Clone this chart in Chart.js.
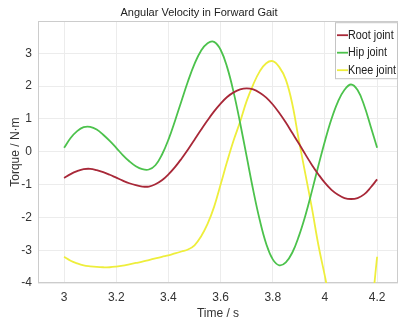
<!DOCTYPE html>
<html>
<head>
<meta charset="utf-8">
<script src="https://cdn.jsdelivr.net/npm/chart.js@4"></script>
<style>
  html, body { margin: 0; padding: 0; background: #fff; }
  #wrap { width: 403px; height: 321px; }
</style>
</head>
<body>
<div id="wrap"><canvas id="chart" width="403" height="321"></canvas></div>
<script>
const times = [3.000, 3.025, 3.050, 3.075, 3.100, 3.125, 3.150, 3.175, 3.200, 3.225,
               3.250, 3.275, 3.300, 3.325, 3.350, 3.375, 3.400, 3.425, 3.450, 3.475,
               3.500, 3.525, 3.550, 3.575, 3.600, 3.625, 3.650, 3.675, 3.700, 3.725,
               3.750, 3.775, 3.800, 3.825, 3.850, 3.875, 3.900, 3.925, 3.950, 3.975,
               4.000, 4.025, 4.050, 4.075, 4.100, 4.125, 4.150, 4.175, 4.200];

const rootJoint = [-0.80, -0.68, -0.59, -0.53, -0.52, -0.56, -0.62, -0.70, -0.79, -0.88,
                   -0.96, -1.02, -1.06, -1.06, -0.99, -0.87, -0.69, -0.47, -0.21, 0.07,
                   0.37, 0.67, 0.96, 1.23, 1.47, 1.67, 1.81, 1.90, 1.93, 1.90,
                   1.80, 1.65, 1.44, 1.18, 0.89, 0.57, 0.25, -0.08, -0.40, -0.69,
                   -0.95, -1.16, -1.31, -1.41, -1.44, -1.41, -1.30, -1.09, -0.84];

const hipJoint = [0.12, 0.42, 0.63, 0.75, 0.76, 0.68, 0.52, 0.33, 0.12, -0.10,
                  -0.29, -0.44, -0.53, -0.54, -0.41, -0.09, 0.37, 0.94, 1.55, 2.15,
                  2.68, 3.08, 3.31, 3.35, 3.11, 2.58, 1.81, 0.87, -0.15, -1.17,
                  -2.08, -2.81, -3.28, -3.46, -3.37, -3.07, -2.57, -1.94, -1.20, -0.42,
                  0.33, 1.00, 1.53, 1.89, 2.05, 1.88, 1.42, 0.78, 0.12];

const kneeJoint = [-3.20, -3.32, -3.40, -3.46, -3.49, -3.51, -3.52, -3.52, -3.50, -3.47,
                   -3.43, -3.39, -3.35, -3.30, -3.25, -3.20, -3.16, -3.10, -3.04, -2.98,
                   -2.85, -2.58, -2.20, -1.68, -1.00, -0.30, 0.35, 0.92, 1.55, 2.05,
                   2.45, 2.70, 2.76, 2.58, 2.20, 1.45, 0.35, -0.68, -1.72, -2.85,
                   -3.80, -4.80, -5.60, -6.20, -6.50, -6.40, -6.00, -5.00, -3.20];

const seriesNames = ['Root joint', 'Hip joint', 'Knee joint'];
const seriesColors = ['#a82838', '#4cc24c', '#eeee3c'];
const xTicks = [3, 3.2, 3.4, 3.6, 3.8, 4, 4.2];
const yTicks = [-4, -3, -2, -1, 0, 1, 2, 3];

const fontFamily = '"Liberation Sans", Arial, sans-serif';

function toPoints(vals) {
    return vals.map((v, i) => ({ x: times[i], y: v }));
}

const allSeries = [rootJoint, hipJoint, kneeJoint];

// box round the axes and the legend in the top right corner
const boxAndLegend = {
    id: 'boxAndLegend',
    beforeDatasetsDraw(chart) {
        const a = chart.chartArea;
        const ctx = chart.ctx;
        ctx.save();
        ctx.strokeStyle = '#cccccc';
        ctx.lineWidth = 1;
        ctx.strokeRect(Math.round(a.left) + 0.5, Math.round(a.top) + 0.5,
            Math.round(a.right - a.left) - 1, Math.round(a.bottom - a.top) - 1);
        ctx.restore();
    },
    afterDatasetsDraw(chart) {
        const a = chart.chartArea;
        const ctx = chart.ctx;
        const x0 = a.right - 63, y0 = a.top + 1, w = 63, h = 57;
        ctx.save();
        ctx.fillStyle = '#ffffff';
        ctx.fillRect(x0, y0, w, h);
        ctx.strokeStyle = '#c4c4c4';
        ctx.lineWidth = 1;
        ctx.strokeRect(x0 + 0.5, y0 + 0.5, w - 1, h - 1);
        seriesNames.forEach((name, i) => {
            const y = y0 + 13 + i * 17.5;
            ctx.strokeStyle = seriesColors[i];
            ctx.lineWidth = 1.8;
            ctx.beginPath();
            ctx.moveTo(x0 + 2, y);
            ctx.lineTo(x0 + 13, y);
            ctx.stroke();
            // text is a bit narrow in the original
            ctx.save();
            ctx.translate(x0 + 13, y);
            ctx.scale(0.9, 1);
            ctx.font = '12px ' + fontFamily;
            ctx.textBaseline = 'middle';
            ctx.textAlign = 'left';
            ctx.fillStyle = '#222222';
            ctx.fillText(name, 0, 0);
            ctx.restore();
        });
        ctx.restore();
    }
};

const ctx = document.getElementById('chart').getContext('2d');
const chart = new Chart(ctx, {
    type: 'line',
    data: {
        datasets: seriesNames.map((name, i) => ({
            label: name,
            data: toPoints(allSeries[i]),
            borderColor: seriesColors[i],
            backgroundColor: seriesColors[i],
            borderWidth: 1.8,
            pointRadius: 0,
            tension: 0.4,
            fill: false
        }))
    },
    options: {
        responsive: false,
        animation: false,
        layout: { padding: { left: 0, right: 5, top: 0, bottom: 0 } },
        plugins: {
            legend: { display: false },
            tooltip: { enabled: false },
            title: {
                display: true,
                text: 'Angular Velocity in Forward Gait',
                color: '#222222',
                font: { family: fontFamily, size: 11, weight: 'normal' },
                padding: { top: 6, bottom: 2 }
            }
        },
        scales: {
            x: {
                type: 'linear',
                min: 2.9,
                max: 4.28,
                afterBuildTicks: scale => { scale.ticks = xTicks.map(v => ({ value: v })); },
                afterFit: scale => { scale.height = 38; },
                grid: { color: '#ececec', drawTicks: false },
                border: { display: false },
                ticks: {
                    color: '#333333',
                    padding: 7,
                    maxRotation: 0,
                    font: { family: fontFamily, size: 12 },
                    callback: v => String(v)
                },
                title: {
                    display: true,
                    text: 'Time / s',
                    color: '#333333',
                    font: { family: fontFamily, size: 12 },
                    padding: { top: 2, bottom: 0 }
                }
            },
            y: {
                min: -4,
                max: 3.98,
                afterBuildTicks: scale => { scale.ticks = yTicks.map(v => ({ value: v })); },
                afterFit: scale => { scale.width = 38; },
                grid: { color: '#ececec', drawTicks: false },
                border: { display: false },
                ticks: {
                    color: '#333333',
                    padding: 6,
                    font: { family: fontFamily, size: 12 },
                    callback: v => String(v)
                },
                title: {
                    display: true,
                    text: 'Torque / N·m',
                    color: '#333333',
                    font: { family: fontFamily, size: 12 },
                    padding: { top: 8, bottom: 0 }
                }
            }
        }
    },
    plugins: [boxAndLegend]
});
</script>
</body>
</html>
